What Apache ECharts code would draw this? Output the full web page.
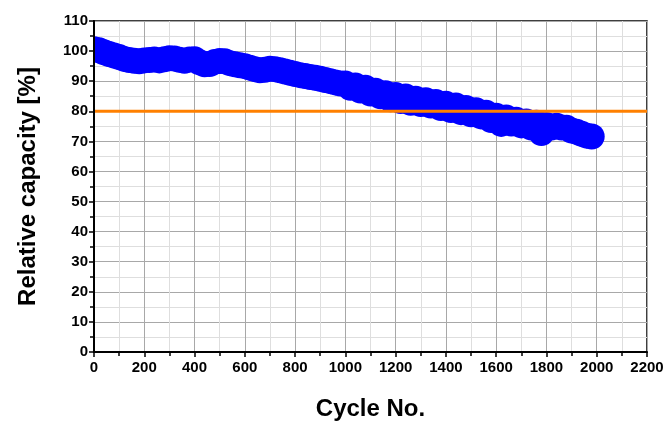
<!DOCTYPE html>
<html>
<head>
<meta charset="utf-8">
<script src="https://cdn.jsdelivr.net/npm/echarts@6/dist/echarts.min.js"></script>
<style>
  html, body { margin: 0; padding: 0; background: #fff; }
  #chart { width: 666px; height: 421px; }
</style>
</head>
<body>
<div id="chart"></div>
<script>
// cycle numbers and relative capacity [%]
var cycles = [
  0, 20, 40, 60, 80, 100, 120, 140, 160, 180,
  200, 220, 240, 260, 280, 300, 320, 340, 360, 380,
  400, 420, 440, 460, 480, 500, 520, 540, 560, 580,
  600, 620, 640, 660, 680, 700, 720, 740, 760, 780,
  800, 820, 840, 860, 880, 900, 920, 940, 960, 980,
  1000, 1020, 1040, 1060, 1080, 1100, 1120, 1140, 1160, 1180,
  1200, 1220, 1240, 1260, 1280, 1300, 1320, 1340, 1360, 1380,
  1400, 1420, 1440, 1460, 1480, 1500, 1520, 1540, 1560, 1580,
  1600, 1620, 1640, 1660, 1680, 1700, 1720, 1740, 1760, 1780,
  1800, 1820, 1840, 1860, 1880, 1900, 1920, 1940, 1960, 1980
];
var capacity = [
  100.6, 100.3, 99.6, 99.0, 98.5, 98.0, 97.4, 97.0, 96.8, 96.6,
  96.9, 97.0, 97.2, 96.9, 97.3, 97.6, 97.5, 97.1, 96.8, 97.2,
  97.3, 96.3, 95.6, 95.7, 96.4, 96.7, 96.6, 96.0, 95.6, 95.3,
  95.0, 94.5, 94.0, 93.6, 93.8, 94.1, 94.0, 93.6, 93.2, 92.8,
  92.4, 92.0, 91.7, 91.4, 91.1, 90.8, 90.4, 90.0, 89.6, 89.2,
  89.2, 87.8, 88.6, 86.9, 87.8, 85.9, 86.8, 85.0, 86.0, 84.0,
  85.4, 83.4, 84.9, 82.8, 84.2, 82.4, 83.7, 81.9, 83.1, 81.1,
  82.5, 80.4, 81.9, 79.7, 81.1, 79.0, 80.3, 78.3, 79.5, 77.1,
  78.5, 75.8, 77.9, 75.9, 77.2, 75.3, 76.6, 74.6, 76.2, 72.8,
  75.4, 74.6, 75.2, 74.6, 74.5, 73.6, 73.2, 72.5, 71.9, 71.6
];
var limitLine = [[0, 80], [2200, 80]];

var points = [];
for (var i = 0; i < cycles.length; i++) {
  points.push([cycles[i], capacity[i]]);
}

var font = 'Liberation Sans, Arial, sans-serif';
var tickStyle = { color: '#000', width: 1.5 };
var labelStyle = { fontFamily: font, fontSize: 15, fontWeight: 'bold', color: '#000' };
var nameStyle = { fontFamily: font, fontSize: 24, fontWeight: 'bold', color: '#000' };

var chart = echarts.init(document.getElementById('chart'));
chart.setOption({
  animation: false,
  // white mask left of the plot so the first circles look clipped at the axis
  graphic: [{
    type: 'rect', z: 5, silent: true,
    shape: { x: 0, y: 0, width: 93, height: 352 },
    style: { fill: '#fff' }
  }],
  grid: {
    left: 94, right: 19, top: 21, bottom: 69,
    outerBoundsMode: 'none',
    show: true, borderColor: '#000', borderWidth: 1.5, backgroundColor: 'transparent'
  },
  xAxis: {
    type: 'value', min: 0, max: 2200, interval: 200,
    name: 'Cycle No.', nameLocation: 'middle', nameGap: 45,
    nameTextStyle: nameStyle,
    axisLine: { onZero: false, lineStyle: { color: '#000', width: 2 } },
    axisTick: { show: true, length: 5, lineStyle: tickStyle },
    minorTick: { show: true, splitNumber: 2, length: 4, lineStyle: tickStyle },
    axisLabel: Object.assign({ margin: 8, formatter: function (v) { return String(v); } }, labelStyle),
    splitLine: { show: true, lineStyle: { color: '#a8a8a8', width: 1 } },
    minorSplitLine: { show: true, lineStyle: { color: '#dedede', width: 1 } }
  },
  yAxis: [
    {
      // grid lines only
      type: 'value', min: 0, max: 110, interval: 10,
      axisLine: { show: false },
      axisTick: { show: false },
      axisLabel: { show: false },
      splitLine: { show: true, lineStyle: { color: '#a8a8a8', width: 1 } },
      minorTick: { show: false, splitNumber: 2 },
      minorSplitLine: { show: true, lineStyle: { color: '#dedede', width: 1 } }
    },
    {
      // axis line, ticks, labels and name drawn above the mask
      type: 'value', min: 0, max: 110, interval: 10, position: 'left', z: 10,
      name: 'Relative capacity [%]', nameLocation: 'middle', nameGap: 54,
      nameTextStyle: nameStyle,
      axisLine: { show: true, onZero: false, lineStyle: { color: '#000', width: 2 } },
      axisTick: { show: true, length: 5, lineStyle: tickStyle },
      minorTick: { show: true, splitNumber: 2, length: 4, lineStyle: tickStyle },
      axisLabel: Object.assign({ margin: 6 }, labelStyle),
      splitLine: { show: false },
      minorSplitLine: { show: false }
    }
  ],
  series: [
    {
      type: 'scatter',
      data: points,
      symbol: 'circle',
      symbolSize: 26,
      itemStyle: { color: '#0000ff', opacity: 1 },
      z: 2
    },
    {
      type: 'line',
      data: limitLine,
      symbol: 'none',
      lineStyle: { color: '#ff8000', width: 3 },
      z: 3
    }
  ]
});
</script>
</body>
</html>
